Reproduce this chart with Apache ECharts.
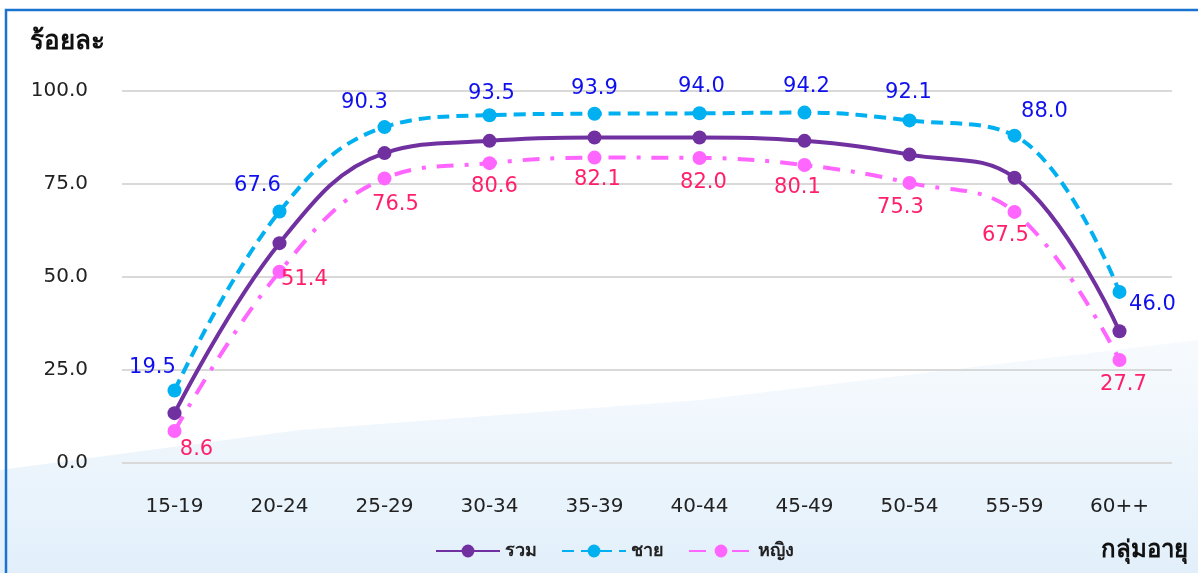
<!DOCTYPE html>
<html>
<head>
<meta charset="utf-8">
<script src="https://cdn.jsdelivr.net/npm/echarts@6/dist/echarts.min.js"></script>
<style>
html,body{margin:0;padding:0;background:#fff;}
#c{width:1198px;height:573px;}
</style>
</head>
<body>
<div id="c"></div>
<script>
const categories = ['15-19','20-24','25-29','30-34','35-39','40-44','45-49','50-54','55-59','60++'];
const totalValues = [13.4, 59.1, 83.3, 86.6, 87.5, 87.5, 86.6, 82.9, 76.7, 35.4];
const maleValues = [19.5, 67.6, 90.3, 93.5, 93.9, 94.0, 94.2, 92.1, 88.0, 46.0];
const femaleValues = [8.6, 51.4, 76.5, 80.6, 82.1, 82.0, 80.1, 75.3, 67.5, 27.7];
const seriesNames = ['รวม','ชาย','หญิง'];

const FONT = 'Tahoma, "DejaVu Sans", "Noto Sans", sans-serif';
const chart = echarts.init(document.getElementById('c'));

const maleOffset = [[-22,-23],[-22,-26],[-20,-25],[2,-22],[0,-25],[2,-27],[2,-26],[-1,-28],[30,-24],[33,13]];
const femaleOffset = [[22,19],[25,8],[11,26],[5,23],[3,22],[4,25],[-7,23],[-9,25],[-9,24],[4,25]];

chart.setOption({
  animation: false,
  backgroundColor: '#ffffff',
  graphic: [
    {type:'rect', shape:{x:6, y:10, width:1300, height:700}, style:{fill:'none', stroke:'#1a73d0', lineWidth:2.5}, z:-1},
    {type:'polygon', shape:{points:[[0,573],[0,470],[300,430],[700,400],[1198,340],[1198,573]]}, style:{fill:new echarts.graphic.LinearGradient(0,0,0,1,[{offset:0,color:'rgba(200,225,245,0.15)'},{offset:1,color:'rgba(190,220,245,0.45)'}])}, z:-2}
  ],
  grid: {left:122, right:26, top:91, bottom:110},
  legend: {
    data: seriesNames,
    left: 430,
    top: 537,
    itemWidth: 64,
    itemHeight: 16,
    itemGap: 24,
    textStyle: {fontFamily: FONT, fontSize: 18, fontWeight:'bold', color:'#222'}
  },
  xAxis: {
    type:'category',
    data: categories,
    boundaryGap: true,
    name: 'กลุ่มอายุ',
    nameLocation: 'end',
    nameGap: 0,
    nameTextStyle: {fontFamily: FONT, fontSize: 24, fontWeight:'bold', color:'#111', align:'right', verticalAlign:'top', padding:[76,-16,0,0]},
    axisLine: {show:false},
    axisTick: {show:false},
    axisLabel: {fontFamily: FONT, fontSize: 20, color:'#222', margin: 34}
  },
  yAxis: {
    type:'value',
    min:0, max:100, interval:25,
    name: 'ร้อยละ',
    nameLocation: 'end',
    nameGap: 36,
    nameTextStyle: {fontFamily: FONT, fontSize: 26, fontWeight:'bold', color:'#111', align:'left', padding:[0,0,0,-92]},
    axisLine: {show:false},
    axisTick: {show:false},
    splitLine: {lineStyle:{color:'#d9d9d9', width:2}},
    axisLabel: {fontFamily: FONT, fontSize: 20, color:'#222', margin: 34, formatter: v => v.toFixed(1)}
  },
  series: [
    {
      name: seriesNames[0], type:'line', data: totalValues, smooth: 0.4,
      symbol:'circle', symbolSize: 14,
      itemStyle:{color:'#7030a0'},
      lineStyle:{color:'#7030a0', width:4},
      z: 3
    },
    {
      name: seriesNames[1], type:'line', smooth: 0.4,
      data: maleValues.map((v,i)=>({value:v, label:{offset:maleOffset[i]}})),
      symbol:'circle', symbolSize: 14,
      itemStyle:{color:'#00b0f0'},
      lineStyle:{color:'#00b0f0', width:4, type:[12,7]},
      label:{show:true, position:'inside', fontFamily: FONT, fontSize: 21, color:'#1010ee', textBorderWidth:0, formatter: p => p.value.toFixed(1)},
      z: 2
    },
    {
      name: seriesNames[2], type:'line', smooth: 0.4,
      data: femaleValues.map((v,i)=>({value:v, label:{offset:femaleOffset[i]}})),
      symbol:'circle', symbolSize: 14,
      itemStyle:{color:'#ff66ff'},
      lineStyle:{color:'#ff66ff', width:4, type:[17,11,4,11]},
      label:{show:true, position:'inside', fontFamily: FONT, fontSize: 21, color:'#ff1f6a', textBorderWidth:0, formatter: p => p.value.toFixed(1)},
      z: 2
    }
  ]
});
</script>
</body>
</html>
